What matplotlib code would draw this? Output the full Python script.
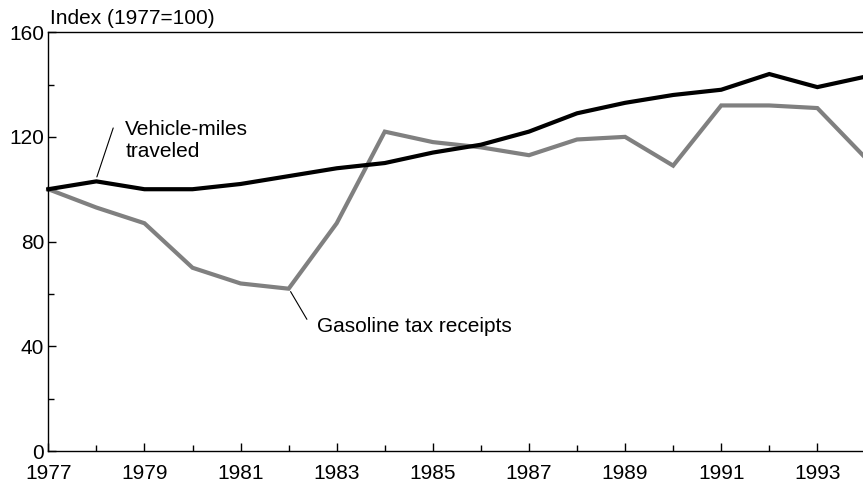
import numpy as np
import matplotlib
matplotlib.use('Agg')
from matplotlib import pyplot as plt
from matplotlib.ticker import MultipleLocator

# Data (index, 1977=100)
years = [1977, 1978, 1979, 1980, 1981, 1982, 1983, 1984, 1985,
         1986, 1987, 1988, 1989, 1990, 1991, 1992, 1993, 1994]
vehicle_miles = [100, 103, 100, 100, 102, 105, 108, 110, 114,
                 117, 122, 129, 133, 136, 138, 144, 139, 143]
gas_tax = [100, 93, 87, 70, 64, 62, 87, 122, 118,
           116, 113, 119, 120, 109, 132, 132, 131, 112]
year_ticks = list(range(1977, 1994, 2))

plt.rcParams['font.family'] = ['Liberation Sans', 'DejaVu Sans']
FS = 15

fig = plt.figure(figsize=(8.63, 4.82), dpi=100)
ax = fig.add_axes([0.056, 0.0643, 0.944, 0.869])

ax.plot(years, gas_tax, color='#808080', lw=3.0, solid_joinstyle='miter', clip_on=False, zorder=2)
ax.plot(years, vehicle_miles, color='black', lw=3.0, solid_joinstyle='miter', clip_on=False, zorder=3)

ax.set_xlim(1977, 1993.95)
ax.set_ylim(0, 160)

ax.set_xticks(year_ticks)
ax.set_xticklabels([str(y) for y in year_ticks])
ax.xaxis.set_minor_locator(MultipleLocator(1))
ax.yaxis.set_major_locator(MultipleLocator(40))
ax.yaxis.set_minor_locator(MultipleLocator(20))
ax.tick_params(which='both', direction='in', labelsize=FS, width=1, colors='black')
ax.tick_params(which='major', length=6)
ax.tick_params(which='minor', length=4)
ax.tick_params(axis='x', pad=9)
ax.tick_params(axis='y', pad=3)

for side in ['left', 'bottom', 'top']:
    ax.spines[side].set_linewidth(1)
ax.spines['right'].set_visible(False)

fig.text(0.058, 0.950, 'Index (1977=100)', fontsize=FS, ha='left', va='baseline')

# labels with leader lines
ax.text(1978.6, 120.7, 'Vehicle-miles', fontsize=FS, ha='left', va='baseline')
ax.text(1978.6, 112.3, 'traveled', fontsize=FS, ha='left', va='baseline')
ax.annotate('', xy=(1978.01, 104.7), xytext=(1978.35, 123.4),
            arrowprops=dict(arrowstyle='-', color='black', lw=0.8, shrinkA=0, shrinkB=0))

ax.text(1982.6, 45.5, 'Gasoline tax receipts', fontsize=FS, ha='left', va='baseline')
ax.annotate('', xy=(1982.04, 60.9), xytext=(1982.38, 50.3),
            arrowprops=dict(arrowstyle='-', color='black', lw=0.8, shrinkA=0, shrinkB=0))

fig.savefig('out.png', dpi=100)
